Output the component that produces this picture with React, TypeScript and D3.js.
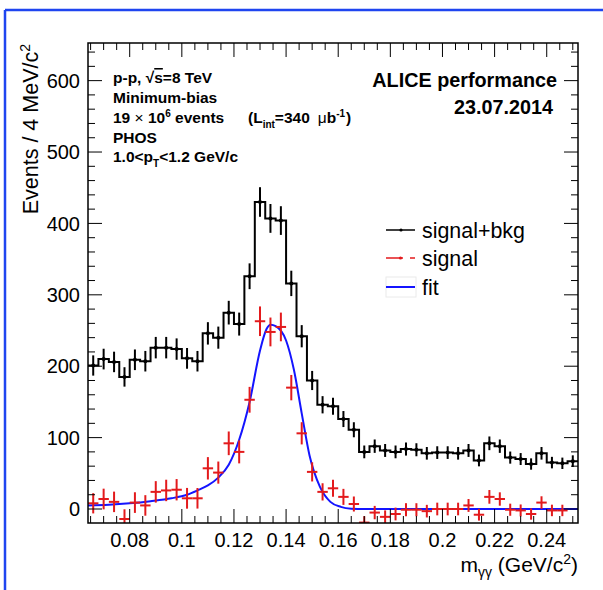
import React from "react";
import * as d3 from "d3";

// Histogram binning (GeV/c^2)
const massMin = 0.064;
const binWidth = 0.004;
// signal+bkg counts per bin (47 bins)
const sigBkg = [201, 210, 206, 185, 209, 207, 226, 226, 224, 211, 207, 246, 240, 275, 259, 326, 430, 407, 404, 316, 242, 180, 146, 144, 126, 111, 80, 88, 82, 80, 84, 83, 78, 79, 79, 78, 82, 68, 92, 88, 72, 70, 63, 78, 65, 64, 67];
// signal (bkg subtracted) per bin (46 bins)
const signal = [8, 14, 10, -14, 9, 5, 24, 26, 27, 15, 15, 57, 51, 92, 80, 153, 263, 248, 255, 170, 106, 52, 24, 29, 17, 7, -19, -5, -11, -7, -1, -1, -3, 0, 0, 0, 5, -8, 17, 14, -1, -2, -7, 9, -2, -2];
// fit curve
const fitMass = [0.064, 0.072, 0.08, 0.088, 0.096, 0.102, 0.106, 0.110, 0.114, 0.118, 0.122, 0.126, 0.130, 0.1325, 0.1341, 0.136, 0.140, 0.143, 0.146, 0.149, 0.153, 0.157, 0.161, 0.165, 0.170, 0.200, 0.252];
const fitValue = [5, 6, 8, 11, 15, 20, 26, 33, 44, 62, 97, 150, 222, 252, 258, 256, 236, 195, 134, 75, 31, 10, 3, 0.5, 0, 0, 0];

const xTickLabels = [0.08, 0.1, 0.12, 0.14, 0.16, 0.18, 0.2, 0.22, 0.24];
const yTickLabels = [0, 100, 200, 300, 400, 500, 600];

const W = 603, H = 590;
const left = 88, right = 578, top = 43, bottom = 523;
const FONT = "'Liberation Sans', Arial, Helvetica, sans-serif";
const RED = "#e31a1c";
const BLUE = "#1414ff";

export default function App() {
  const nb = sigBkg.length;
  const x = d3.scaleLinear().domain([massMin, massMin + nb * binWidth]).range([left, right]);
  const y = d3.scaleLinear().domain([-19.6, 652.7]).range([bottom, top]);

  const edge = (i: number) => massMin + i * binWidth;
  const center = (i: number) => massMin + (i + 0.5) * binWidth;

  const stepPts: [number, number][] = sigBkg.map((v, i) => [edge(i), v] as [number, number]);
  stepPts.push([edge(nb), sigBkg[nb - 1]]);
  const stepLine = d3.line<[number, number]>().x(d => x(d[0])).y(d => y(d[1])).curve(d3.curveStepAfter);

  const fitLine = d3.line<number>().x((_, i) => x(fitMass[i])).y(d => y(d)).curve(d3.curveMonotoneX);

  const xMinor = d3.range(13, 51).map(i => i * 0.005).filter(v => v > massMin && v < massMin + nb * binWidth);
  const yMinor = d3.range(0, 641, 20);

  const info = 15.5;
  const sub = 10;

  return (
    <div style={{ position: "absolute", left: 0, top: 0 }}>
      <svg width={W} height={H} style={{ display: "block", background: "#fff" }} fontFamily={FONT}>
        <defs>
          <clipPath id="frameClip">
            <rect x={left} y={top} width={right - left} height={bottom - top} />
          </clipPath>
        </defs>
        {/* blue outer border */}
        <line x1={5} y1={10} x2={W} y2={10} stroke="#1f45f0" strokeWidth={2.5} />
        <line x1={5} y1={10} x2={5} y2={H} stroke="#1f45f0" strokeWidth={2.5} />

        <g clipPath="url(#frameClip)">
          {/* fit */}
          <path d={fitLine(fitValue) || ""} fill="none" stroke={BLUE} strokeWidth={2} />
          {/* signal+bkg histogram */}
          <path d={stepLine(stepPts) || ""} fill="none" stroke="#000" strokeWidth={2} />
          {sigBkg.map((v, i) => {
            const e = Math.sqrt(v);
            return (
              <g key={"b" + i}>
                <line x1={x(center(i))} x2={x(center(i))} y1={y(v - e)} y2={y(v + e)} stroke="#000" strokeWidth={2} />
                <circle cx={x(center(i))} cy={y(v)} r={2} fill="#000" />
              </g>
            );
          })}
          {/* signal */}
          {signal.map((v, i) => {
            const e = Math.sqrt(sigBkg[i]);
            return (
              <g key={"s" + i}>
                <line x1={x(edge(i))} x2={x(edge(i + 1))} y1={y(v)} y2={y(v)} stroke={RED} strokeWidth={2} />
                <line x1={x(center(i))} x2={x(center(i))} y1={y(v - e)} y2={y(v + e)} stroke={RED} strokeWidth={2} />
              </g>
            );
          })}
        </g>

        {/* frame */}
        <rect x={left} y={top} width={right - left} height={bottom - top} fill="none" stroke="#000" strokeWidth={1.5} />

        {/* x ticks */}
        {xMinor.map((v, i) => {
          const isMajor = xTickLabels.some(t => Math.abs(t - v) < 1e-6);
          const len = isMajor ? 14 : 7;
          return (
            <g key={"xt" + i} stroke="#000" strokeWidth={1}>
              <line x1={x(v)} x2={x(v)} y1={bottom} y2={bottom - len} />
              <line x1={x(v)} x2={x(v)} y1={top} y2={top + len} />
            </g>
          );
        })}
        {xTickLabels.map((t, i) => (
          <text key={"xl" + i} x={x(t)} y={547} fontSize={20} textAnchor="middle">{String(t)}</text>
        ))}

        {/* y ticks */}
        {yMinor.map((v, i) => {
          const isMajor = v % 100 === 0;
          const len = isMajor ? 14 : 7;
          return (
            <g key={"yt" + i} stroke="#000" strokeWidth={1}>
              <line x1={left} x2={left + len} y1={y(v)} y2={y(v)} />
              <line x1={right} x2={right - len} y1={y(v)} y2={y(v)} />
            </g>
          );
        })}
        {yTickLabels.map((t, i) => (
          <text key={"yl" + i} x={80} y={y(t)} dy="0.36em" fontSize={20} textAnchor="end">{t}</text>
        ))}

        {/* axis titles */}
        <text transform="translate(38,44) rotate(-90)" fontSize={21.5} textAnchor="end">
          Events / 4 MeV/c<tspan fontSize={14} dy={-8}>2</tspan>
        </text>
        <text x={578} y={572} fontSize={21} textAnchor="end">
          m<tspan fontSize={14} dy={5}>γγ</tspan><tspan dy={-5}> (GeV/c</tspan><tspan fontSize={14} dy={-8}>2</tspan><tspan dy={8}>)</tspan>
        </text>

        {/* info block */}
        <g fontSize={info} fontWeight="bold">
          <text x={113} y={83}>p-p,  √<tspan style={{ textDecoration: "overline" }}>s</tspan>=8 TeV</text>
          <text x={113} y={103}>Minimum-bias</text>
          <text x={113} y={123}>19 <tspan fontWeight="normal">×</tspan> 10<tspan fontSize={sub} dy={-6}>6</tspan><tspan dy={6}> events</tspan></text>
          <text x={248} y={123}>(L<tspan fontSize={sub} dy={5}>int</tspan><tspan dy={-5}>=340</tspan><tspan fontWeight="normal" dx={8}>μ</tspan><tspan>b</tspan><tspan fontSize={sub} dy={-6}>-1</tspan><tspan dy={6} dx={1}>)</tspan></text>
          <text x={113} y={142.5}>PHOS</text>
          <text x={113} y={162}>1.0&lt;p<tspan fontSize={sub} dy={5}>T</tspan><tspan dy={-5}>&lt;1.2 GeV/c</tspan></text>
        </g>
        <text x={557} y={87} fontSize={19.8} fontWeight="bold" textAnchor="end">ALICE performance</text>
        <text x={553} y={114} fontSize={19.8} fontWeight="bold" textAnchor="end">23.07.2014</text>

        {/* legend */}
        <g>
          <line x1={386} x2={415} y1={230} y2={230} stroke="#000" strokeWidth={1.5} />
          <circle cx={401} cy={230} r={1.6} fill="#000" />
          <text x={422} y={237.5} fontSize={21.4}>signal+bkg</text>
          <line x1={386} x2={403} y1={258} y2={258} stroke={RED} strokeWidth={1.5} />
          <line x1={410} x2={415} y1={258} y2={258} stroke={RED} strokeWidth={1.5} />
          <circle cx={400.5} cy={258} r={1.6} fill={RED} />
          <text x={422} y={265.5} fontSize={21.4}>signal</text>
          <rect x={386} y={277} width={30} height={20} fill="none" stroke="#eaeaea" strokeWidth={1} />
          <line x1={386} x2={415} y1={287} y2={287} stroke={BLUE} strokeWidth={2} />
          <text x={422} y={294.5} fontSize={21.4}>fit</text>
        </g>
      </svg>
    </div>
  );
}
